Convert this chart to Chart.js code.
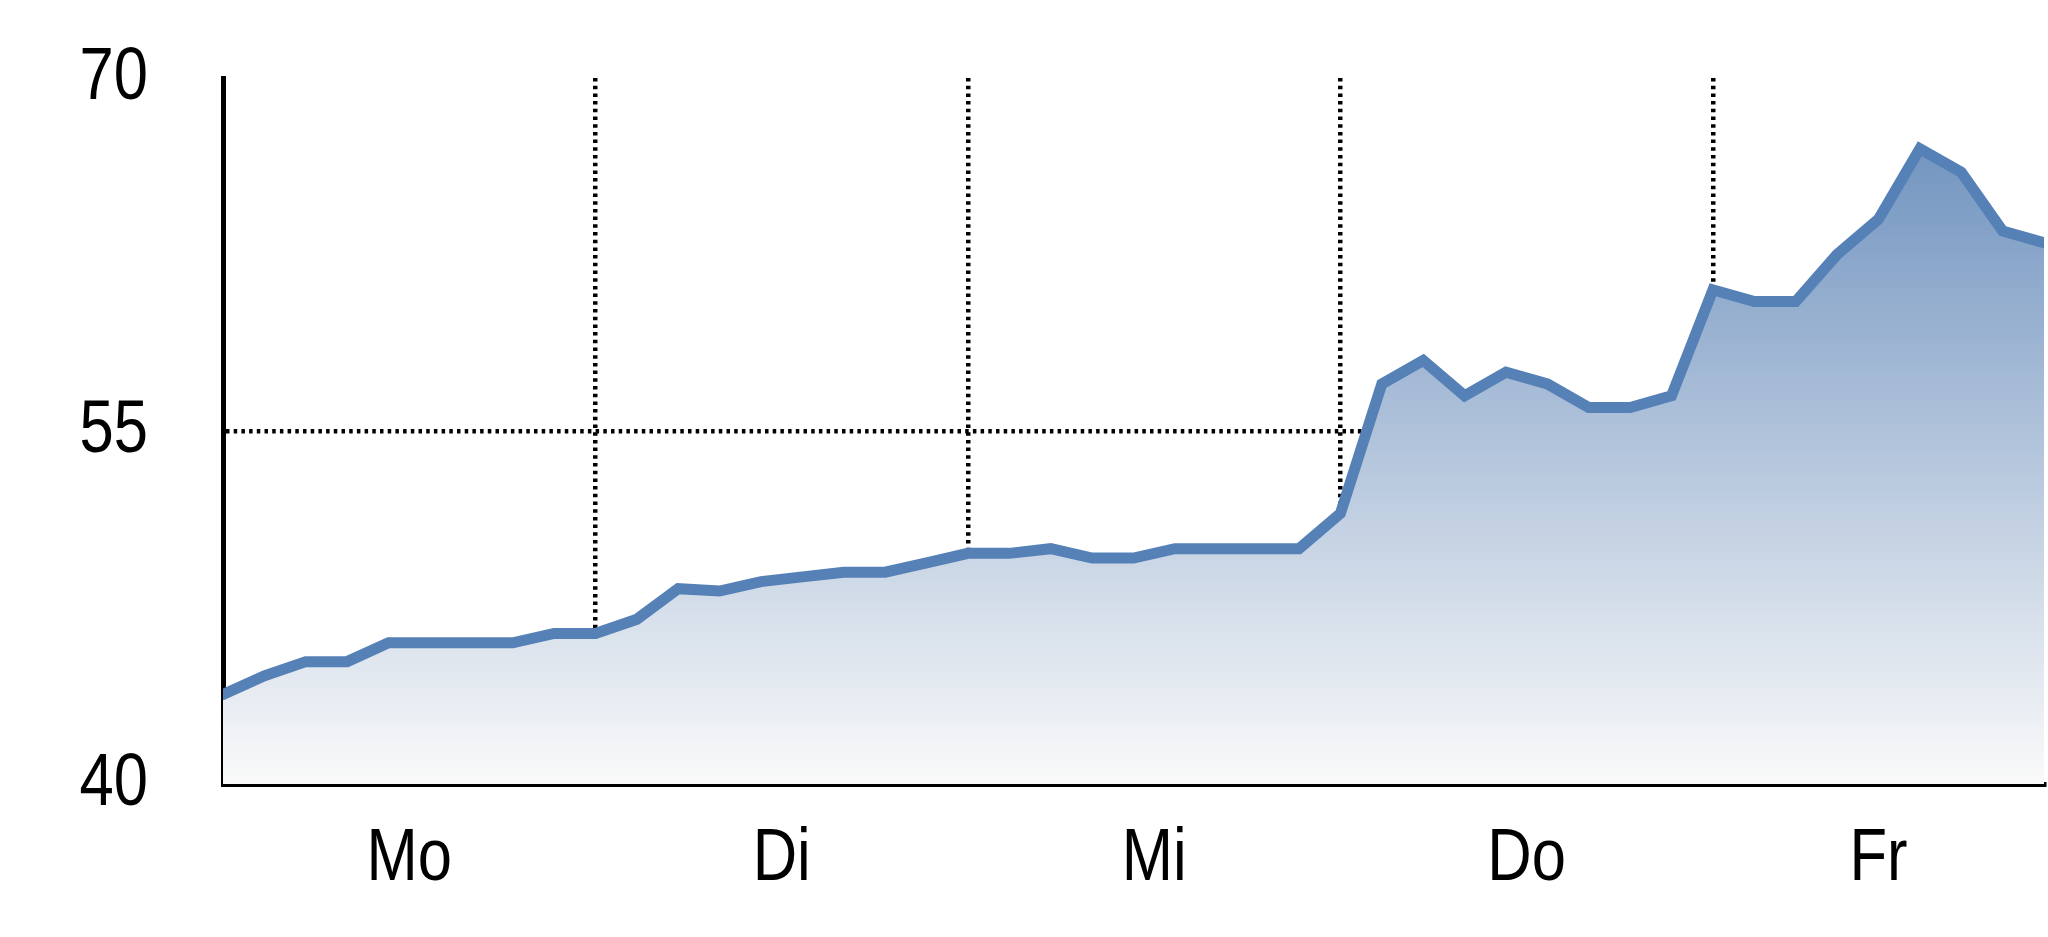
<!DOCTYPE html>
<html lang="de">
<head>
<meta charset="utf-8">
<title>Wochenverlauf</title>
<script src="https://cdn.jsdelivr.net/npm/chart.js@4.4.1/dist/chart.umd.min.js"></script>
<style>
  html, body { margin: 0; padding: 0; background: #fff; }
  #chartBox { width: 2048px; height: 937px; }
</style>
</head>
<body>
<div id="chartBox"><canvas id="weekChart"></canvas></div>
<script>
const tage = ["Mo", "Di", "Mi", "Do", "Fr"];
const tagMitte = [4.5, 13.5, 22.5, 31.5, 40];
const tagGrenzen = [9, 18, 27, 36];
const werte = [
  43.8, 44.6, 45.2, 45.2, 46.0, 46.0, 46.0, 46.0, 46.4,
  46.4, 47.0, 48.3, 48.2, 48.6, 48.8, 49.0, 49.0, 49.4,
  49.8, 49.8, 50.0, 49.6, 49.6, 50.0, 50.0, 50.0, 50.0,
  51.5, 57.0, 58.0, 56.5, 57.5, 57.0, 56.0, 56.0, 56.5,
  61.0, 60.5, 60.5, 62.5, 64.0, 67.0, 66.0, 63.5, 63.0
];
const yTicks = [40, 55, 70];
const yGitter = [55];

const schrift = '"Liberation Sans Narrow", "Arial Narrow", "Liberation Sans", sans-serif';
const linienFarbe = "#5581b7";
const punktLinie = [3.5, 4.2];

// no narrow font here, so the tick labels get squeezed horizontally
class SchmalLinear extends Chart.LinearScale {
  drawLabels() {
    if (!this.options.ticks.display) return;
    const ctx = this.ctx;
    for (const item of this.getLabelItems(this.chart.chartArea)) {
      const [tx, ty] = item.options.translation;
      ctx.save();
      ctx.translate(tx, ty);
      ctx.scale(0.82, 1);
      Chart.helpers.renderText(ctx, item.label, 0, item.textOffset, item.font,
        Object.assign({}, item.options, { translation: null }));
      ctx.restore();
    }
  }
}
SchmalLinear.id = "schmal";
SchmalLinear.defaults = Chart.LinearScale.defaults;
Chart.register(SchmalLinear);

function verlauf(ctx) {
  const area = ctx.chart.chartArea;
  if (!area) return null;
  const g = ctx.chart.ctx.createLinearGradient(0, area.top, 0, area.bottom);
  g.addColorStop(0, "rgb(100,138,186)");
  g.addColorStop(1, "rgb(250,250,250)");
  return g;
}

new Chart(document.getElementById("weekChart"), {
  type: "line",
  data: {
    datasets: [{
      data: werte.map((y, i) => ({ x: i, y })),
      borderColor: linienFarbe,
      borderWidth: 11,
      borderCapStyle: "round",
      backgroundColor: verlauf,
      fill: "start",
      tension: 0,
      pointRadius: 0
    }]
  },
  options: {
    responsive: true,
    maintainAspectRatio: false,
    animation: false,
    layout: { padding: { top: 78, right: 4, bottom: 0, left: 0 } },
    plugins: {
      legend: { display: false },
      tooltip: { enabled: false }
    },
    scales: {
      x: {
        type: "schmal",
        min: 0,
        max: werte.length - 1,
        z: 1,
        afterBuildTicks: axis => {
          axis.ticks = [...tagGrenzen, ...tagMitte].sort((a, b) => a - b).map(value => ({ value }));
        },
        afterFit: axis => { axis.height = 153; },
        ticks: {
          autoSkip: false,
          maxRotation: 0,
          padding: 30,
          color: "#000",
          font: { family: schrift, size: 75 },
          callback: value => {
            const i = tagMitte.indexOf(value);
            return i >= 0 ? tage[i] : "";
          }
        },
        grid: {
          drawTicks: false,
          lineWidth: 4.5,
          color: ctx => tagGrenzen.includes(ctx.tick && ctx.tick.value) ? "#000" : "rgba(0,0,0,0)"
        },
        border: { color: "#000", width: 5, dash: punktLinie }
      },
      y: {
        type: "schmal",
        min: 40,
        max: 70,
        z: 1,
        afterBuildTicks: axis => {
          axis.ticks = yTicks.map(value => ({ value }));
        },
        afterFit: axis => {
          axis.width = 223;
          axis.paddingTop = 0;
          axis.paddingBottom = 0;
        },
        ticks: {
          padding: 75,
          color: "#000",
          font: { family: schrift, size: 75 },
          callback: value => String(value)
        },
        grid: {
          drawTicks: false,
          lineWidth: 4.5,
          color: ctx => yGitter.includes(ctx.tick && ctx.tick.value) ? "#000" : "rgba(0,0,0,0)"
        },
        border: { color: "#000", width: 5, dash: punktLinie }
      }
    }
  }
});
</script>
</body>
</html>
